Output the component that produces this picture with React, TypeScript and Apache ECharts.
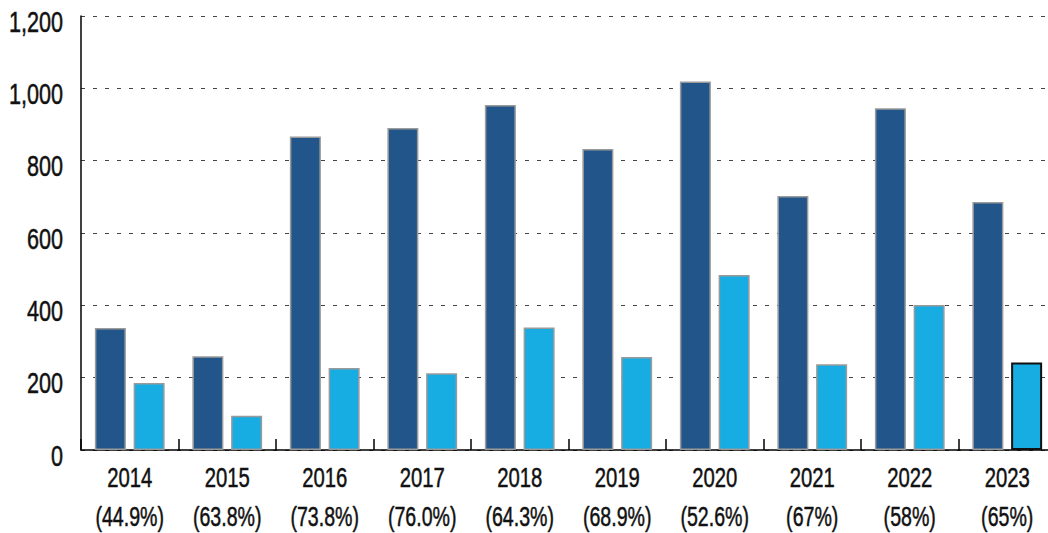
import React, { useEffect, useRef } from "react";
import * as echarts from "echarts";

const years = ["2014", "2015", "2016", "2017", "2018", "2019", "2020", "2021", "2022", "2023"];
const shares = ["44.9%", "63.8%", "73.8%", "76.0%", "64.3%", "68.9%", "52.6%", "67%", "58%", "65%"];
const darkValues = [337, 259, 867, 890, 954, 832, 1019, 702, 945, 686];
const lightValues = [185, 95, 227, 212, 339, 257, 484, 237, 401, 242];
const yTicks = [0, 200, 400, 600, 800, 1000, 1200];
const yMin = 0;
const yMax = 1200;
const yStep = 200;

const FONT = "'Liberation Sans', Arial, sans-serif";

export default function App() {
  const ref = useRef<HTMLDivElement>(null);
  useEffect(() => {
    if (!ref.current) return;
    const chart = echarts.init(ref.current, undefined, { renderer: "svg" });
    chart.setOption({
      animation: false,
      backgroundColor: "#ffffff",
      grid: { left: 81, right: 4, top: 16, bottom: 83, containLabel: false, outerBoundsMode: "none" },
      xAxis: {
        type: "category",
        data: years,
        boundaryGap: true,
        axisLine: { show: true, lineStyle: { color: "#000", width: 1.5 } },
        axisTick: { show: true, inside: true, length: 11, interval: 0, lineStyle: { color: "#000", width: 1.5 } },
        axisLabel: { show: false },
        splitLine: { show: false },
      },
      yAxis: {
        type: "value",
        min: yMin,
        max: yMax,
        interval: yStep,
        axisLine: { show: true, lineStyle: { color: "#000", width: 1.5 } },
        axisTick: { show: false },
        axisLabel: { show: false },
        splitLine: { show: true, lineStyle: { color: "#444", width: 1, type: [4, 8] } },
      },
      series: [
        {
          type: "bar",
          data: darkValues,
          barWidth: 31,
          barGap: "25%",
          itemStyle: { color: "#22568b", borderColor: "#9a9a9a", borderWidth: 1.5 },
        },
        {
          type: "bar",
          data: lightValues.map((v, i) =>
            i === lightValues.length - 1
              ? { value: v, itemStyle: { borderColor: "#111", borderWidth: 2 } }
              : v
          ),
          barWidth: 31,
          barGap: "25%",
          itemStyle: { color: "#17ade2", borderColor: "#9a9a9a", borderWidth: 1.5 },
        },
      ],
    });

    const yStyle = { fontFamily: FONT, fontSize: 29, fill: "#111", stroke: "#111", lineWidth: 0.5 };
    const xStyle = { fontFamily: FONT, fontSize: 28, fill: "#111", stroke: "#111", lineWidth: 0.5 };
    const graphics: any[] = [];
    const y0 = chart.convertToPixel({ yAxisIndex: 0 }, 0) as number;
    yTicks.forEach((v) => {
      const py = chart.convertToPixel({ yAxisIndex: 0 }, v) as number;
      graphics.push({
        type: "text",
        x: 63,
        y: py + 5.5,
        scaleX: 0.745,
        silent: true,
        style: { ...yStyle, text: v.toLocaleString("en-US"), align: "right", verticalAlign: "middle" },
      });
    });
    years.forEach((yr, i) => {
      const px = chart.convertToPixel({ xAxisIndex: 0 }, i) as number;
      graphics.push({
        type: "text",
        x: px,
        y: y0 + 27.5,
        scaleX: 0.725,
        silent: true,
        style: { ...xStyle, text: yr, align: "center", verticalAlign: "middle" },
      });
      graphics.push({
        type: "text",
        x: px,
        y: y0 + 66.5,
        scaleX: 0.7,
        silent: true,
        style: { ...xStyle, text: `(${shares[i]})`, align: "center", verticalAlign: "middle" },
      });
    });
    chart.setOption({ graphic: graphics });
    return () => chart.dispose();
  }, []);
  return (
    <div style={{ position: "absolute", left: 0, top: 0, width: 1048, height: 533, overflow: "hidden", background: "#fff" }}>
      <div ref={ref} style={{ width: 1060, height: 533 }} />
    </div>
  );
}
